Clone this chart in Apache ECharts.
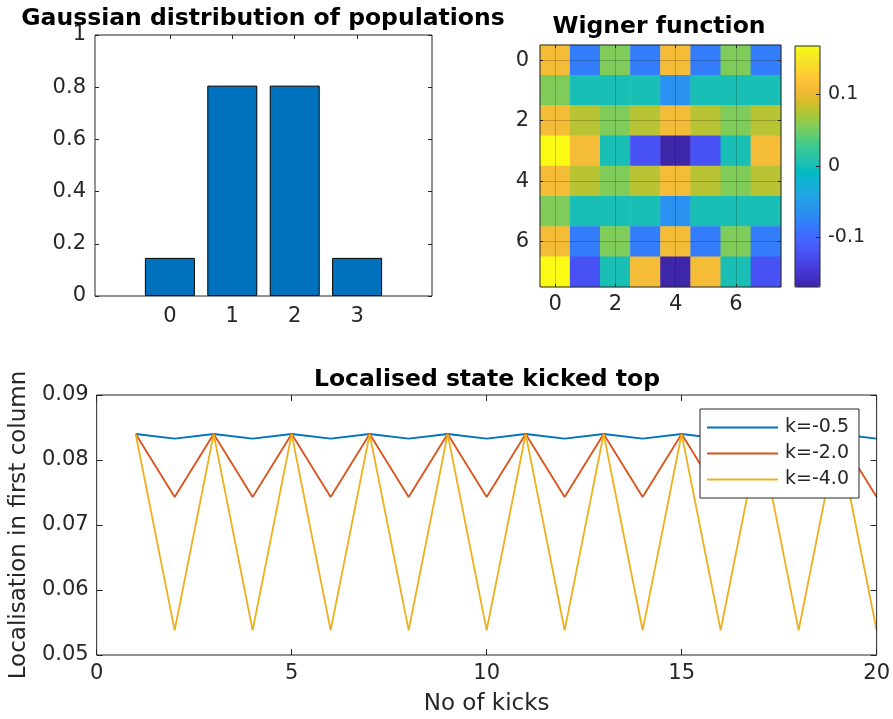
<!DOCTYPE html>
<html>
<head>
<meta charset="utf-8">
<script src="https://cdn.jsdelivr.net/npm/echarts@6/dist/echarts.min.js"></script>
<style>
html,body{margin:0;padding:0;background:#fff;}
#chart{width:893px;height:719px;}
</style>
</head>
<body>
<div id="chart"></div>
<script>
// ---------- data ----------
const popCategories = [0, 1, 2, 3];
const popValues = [0.146, 0.806, 0.806, 0.146];

const wignerX = ['0', '1', '2', '3', '4', '5', '6', '7'];
const wignerY = ['0', '1', '2', '3', '4', '5', '6', '7'];
const wignerRow0 = [0.109, -0.082, 0.055, -0.082, 0.109, -0.082, 0.055, -0.082];
const wignerRow1 = [0.055, 0.002, 0.002, 0.002, -0.063, 0.002, 0.002, 0.002];
const wignerRow2 = [0.109, 0.077, 0.055, 0.077, 0.109, 0.077, 0.055, 0.077];
const wignerRow3 = [0.168, 0.109, 0.002, -0.122, -0.170, -0.122, 0.002, 0.109];
const wignerRow4 = [0.109, 0.077, 0.055, 0.077, 0.109, 0.077, 0.055, 0.077];
const wignerRow5 = [0.055, 0.002, 0.002, 0.002, -0.063, 0.002, 0.002, 0.002];
const wignerRow6 = [0.109, -0.082, 0.055, -0.082, 0.109, -0.082, 0.055, -0.082];
const wignerRow7 = [0.168, -0.122, 0.002, 0.109, -0.170, 0.109, 0.002, -0.122];
const wignerRows = [wignerRow0, wignerRow1, wignerRow2, wignerRow3, wignerRow4, wignerRow5, wignerRow6, wignerRow7];
const colorbarMin = -0.170;
const colorbarMax = 0.168;
const colorbarTicks = [-0.1, 0, 0.1];
const wignerTicks = [0, 2, 4, 6];

const kicks = [1, 2, 3, 4, 5, 6, 7, 8, 9, 10, 11, 12, 13, 14, 15, 16, 17, 18, 19, 20];
const locK05 = [0.0840, 0.0833, 0.0840, 0.0833, 0.0840, 0.0833, 0.0840, 0.0833, 0.0840, 0.0833,
                0.0840, 0.0833, 0.0840, 0.0833, 0.0840, 0.0833, 0.0840, 0.0833, 0.0840, 0.0833];
const locK20 = [0.0840, 0.0743, 0.0840, 0.0743, 0.0840, 0.0743, 0.0840, 0.0743, 0.0840, 0.0743,
                0.0840, 0.0743, 0.0840, 0.0743, 0.0840, 0.0743, 0.0840, 0.0743, 0.0840, 0.0743];
const locK40 = [0.0840, 0.0538, 0.0840, 0.0538, 0.0840, 0.0538, 0.0840, 0.0538, 0.0840, 0.0538,
                0.0840, 0.0538, 0.0840, 0.0538, 0.0840, 0.0538, 0.0840, 0.0538, 0.0840, 0.0538];
const seriesNames = ['k=-0.5', 'k=-2.0', 'k=-4.0'];

// ---------- styles ----------
const FONT = 'DejaVu Sans';
const AX = '#262626';
const parula = ['rgb(62,38,168)', 'rgb(68,50,203)', 'rgb(71,65,229)', 'rgb(72,82,244)', 'rgb(69,99,253)',
  'rgb(56,117,254)', 'rgb(46,135,247)', 'rgb(39,150,235)', 'rgb(32,165,227)', 'rgb(18,177,214)',
  'rgb(2,186,195)', 'rgb(36,193,174)', 'rgb(55,200,151)', 'rgb(87,204,122)', 'rgb(129,204,89)',
  'rgb(171,199,57)', 'rgb(209,191,39)', 'rgb(240,186,54)', 'rgb(254,195,56)', 'rgb(250,214,45)',
  'rgb(245,233,36)', 'rgb(249,251,21)'];
const lineColors = ['#0072BD', '#D95319', '#EDB120'];

function zip(xs, ys) { return xs.map((x, i) => [x, ys[i]]); }
const heatData = [];
wignerRows.forEach((row, r) => row.forEach((v, c) => heatData.push([c, r, v])));

const lbl = (size, extra) => Object.assign({ color: AX, fontFamily: FONT, fontSize: size }, extra || {});
const tickIn = (len) => ({ show: true, inside: true, length: len, lineStyle: { color: AX, width: 1 } });
const noLine = { show: false, onZero: false };
const titleStyle = { fontFamily: FONT, fontSize: 23.5, fontWeight: 'bold', color: '#000' };

const chart = echarts.init(document.getElementById('chart'), null, { renderer: 'canvas' });
chart.setOption({
  animation: false,
  backgroundColor: '#fff',
  title: [
    { text: 'Gaussian distribution of populations', left: 258, top: 2, textAlign: 'center', textStyle: titleStyle },
    { text: 'Wigner function', left: 654, top: 10, textAlign: 'center', textStyle: titleStyle },
    { text: 'Localised state kicked top', left: 482, top: 363, textAlign: 'center', textStyle: titleStyle }
  ],
  grid: [
    { left: 95, top: 35, width: 337, height: 261, show: true, borderColor: AX, borderWidth: 1, backgroundColor: 'transparent', z: 10 },
    { left: 540, top: 45, width: 241, height: 242, show: true, borderColor: AX, borderWidth: 1, backgroundColor: 'transparent', z: 10 },
    { left: 795, top: 46, width: 25, height: 241, show: true, borderColor: AX, borderWidth: 1, backgroundColor: 'transparent', z: 10 },
    { left: 96, top: 395, width: 782, height: 260, show: true, borderColor: AX, borderWidth: 1, backgroundColor: 'transparent', z: 10 }
  ],
  xAxis: [
    { gridIndex: 0, type: 'value', min: -1.2, max: 4.2, position: 'bottom',
      axisLine: noLine, splitLine: { show: false },
      axisTick: Object.assign(tickIn(4), { customValues: popCategories }),
      axisLabel: lbl(21, { margin: 10, customValues: popCategories }) },
    { gridIndex: 0, type: 'value', min: -1.2, max: 4.2, position: 'top',
      axisLine: noLine, splitLine: { show: false },
      axisTick: Object.assign(tickIn(4), { customValues: popCategories }),
      axisLabel: { show: false, customValues: popCategories } },
    { gridIndex: 1, type: 'category', data: wignerX, position: 'bottom', z: 5,
      axisLine: noLine, splitLine: { show: false },
      axisTick: Object.assign(tickIn(3), { alignWithLabel: true, interval: 1 }),
      axisLabel: lbl(21, { margin: 7, interval: 1 }) },
    { gridIndex: 1, type: 'value', min: -0.5, max: 7.5, position: 'top', z: 5,
      axisLine: noLine,
      splitLine: { show: true, lineStyle: { color: 'rgba(0,0,0,0.2)', width: 1 } },
      axisTick: Object.assign(tickIn(3), { customValues: wignerTicks }),
      axisLabel: { show: false, customValues: wignerTicks } },
    { gridIndex: 2, type: 'value', min: 0, max: 1, show: false },
    { gridIndex: 3, type: 'value', min: 0, max: 20, interval: 5, position: 'bottom',
      name: 'No of kicks', nameLocation: 'middle', nameGap: 38,
      nameTextStyle: lbl(23),
      axisLine: noLine, splitLine: { show: false },
      axisTick: tickIn(6), axisLabel: lbl(21, { margin: 8 }) },
    { gridIndex: 3, type: 'value', min: 0, max: 20, interval: 5, position: 'top',
      axisLine: noLine, splitLine: { show: false },
      axisTick: tickIn(6), axisLabel: { show: false } }
  ],
  yAxis: [
    { gridIndex: 0, type: 'value', min: 0, max: 1, interval: 0.2, position: 'left',
      axisLine: noLine, splitLine: { show: false },
      axisTick: tickIn(4), axisLabel: lbl(21, { margin: 9 }) },
    { gridIndex: 0, type: 'value', min: 0, max: 1, interval: 0.2, position: 'right',
      axisLine: noLine, splitLine: { show: false },
      axisTick: tickIn(4), axisLabel: { show: false } },
    { gridIndex: 1, type: 'category', data: wignerY, inverse: true, position: 'left', z: 5,
      axisLine: noLine, splitLine: { show: false },
      axisTick: Object.assign(tickIn(3), { alignWithLabel: true, interval: 1 }),
      axisLabel: lbl(21, { margin: 11, interval: 1 }) },
    { gridIndex: 1, type: 'value', min: -0.5, max: 7.5, inverse: true, position: 'right', z: 5,
      axisLine: noLine,
      splitLine: { show: true, lineStyle: { color: 'rgba(0,0,0,0.2)', width: 1 } },
      axisTick: Object.assign(tickIn(3), { customValues: wignerTicks }),
      axisLabel: { show: false, customValues: wignerTicks } },
    { gridIndex: 2, type: 'value', min: colorbarMin, max: colorbarMax, position: 'right', z: 11,
      axisLine: noLine, splitLine: { show: false },
      axisTick: Object.assign(tickIn(4), { customValues: colorbarTicks }),
      axisLabel: lbl(19, { margin: 8, customValues: colorbarTicks }) },
    { gridIndex: 3, type: 'value', min: 0.05, max: 0.09, interval: 0.01, position: 'left',
      name: 'Localisation in first column', nameLocation: 'middle', nameGap: 63, nameRotate: 90,
      nameTextStyle: lbl(23),
      axisLine: noLine, splitLine: { show: false },
      axisTick: tickIn(6), axisLabel: lbl(21, { margin: 8 }) },
    { gridIndex: 3, type: 'value', min: 0.05, max: 0.09, interval: 0.01, position: 'right',
      axisLine: noLine, splitLine: { show: false },
      axisTick: tickIn(6), axisLabel: { show: false } }
  ],
  visualMap: [{
    type: 'continuous', seriesIndex: 1, min: colorbarMin, max: colorbarMax,
    calculable: false, orient: 'vertical', left: 795, top: 46,
    itemWidth: 25, itemHeight: 241, padding: 0,
    inRange: { color: parula }, textStyle: { color: 'transparent' }
  }],
  legend: {
    data: seriesNames, orient: 'vertical', left: 700, top: 409,
    icon: 'rect', itemWidth: 71, itemHeight: 2, itemGap: 7, padding: [9, 10, 9, 7],
    backgroundColor: '#fff', borderColor: AX, borderWidth: 1, borderRadius: 0,
    textStyle: lbl(19, { padding: [0, 0, 0, 2] }), z: 12
  },
  series: [
    { type: 'bar', xAxisIndex: 0, yAxisIndex: 0, data: zip(popCategories, popValues),
      barWidth: 50, itemStyle: { color: '#0072BD', borderColor: '#000', borderWidth: 1 } },
    { type: 'heatmap', xAxisIndex: 2, yAxisIndex: 2, data: heatData, emphasis: { disabled: true } },
    { type: 'line', name: seriesNames[0], xAxisIndex: 5, yAxisIndex: 5, data: zip(kicks, locK05),
      symbol: 'none', lineStyle: { color: lineColors[0], width: 1.8 }, itemStyle: { color: lineColors[0] } },
    { type: 'line', name: seriesNames[1], xAxisIndex: 5, yAxisIndex: 5, data: zip(kicks, locK20),
      symbol: 'none', lineStyle: { color: lineColors[1], width: 1.8 }, itemStyle: { color: lineColors[1] } },
    { type: 'line', name: seriesNames[2], xAxisIndex: 5, yAxisIndex: 5, data: zip(kicks, locK40),
      symbol: 'none', lineStyle: { color: lineColors[2], width: 1.8 }, itemStyle: { color: lineColors[2] } }
  ]
});
</script>
</body>
</html>
